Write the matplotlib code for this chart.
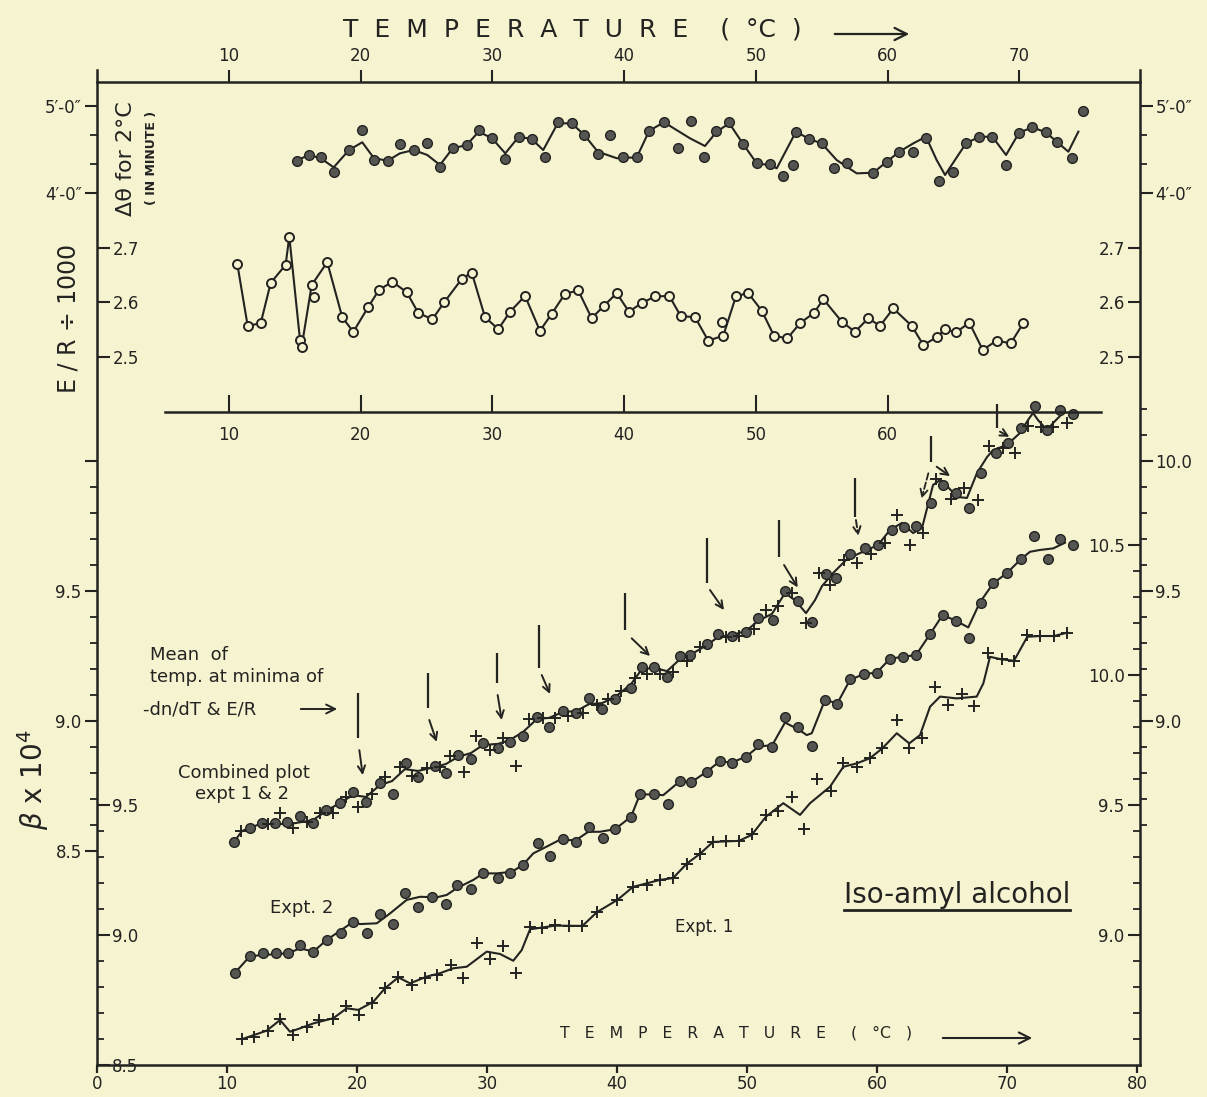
import matplotlib
matplotlib.use("Agg")
import matplotlib.pyplot as plt
import numpy as np
from matplotlib.patches import FancyArrowPatch
from matplotlib.lines import Line2D

plt.rcParams['font.family'] = ['DejaVu Sans']

PAPER = '#f6f3d0'
INK = '#232321'
DOT = '#555552'
W, H = 1207, 1097

# ---------------- top panel: delta-theta for 2 C (minutes) ----------------
dt_T = [15.14, 16.07, 16.96, 18.0, 19.11, 20.12, 21.01, 22.05, 22.98, 24.02, 25.06, 26.02,
        26.99, 28.05, 28.96, 29.97, 30.98, 32.0, 32.98, 34.0, 34.96, 36.02, 36.98, 38.0,
        38.93, 39.94, 40.96, 41.91, 43.03, 44.12, 45.06, 46.07, 46.96, 47.99, 49.05, 50.07,
        51.08, 52.09, 52.8, 53.05, 54.06, 55.0, 55.96, 56.95, 58.92, 59.94, 60.9, 61.96,
        62.92, 63.93, 64.95, 65.96, 66.97, 67.96, 69.0, 69.99, 71.0, 72.01, 72.85, 73.99, 74.87]
dt_v = [4.371, 4.437, 4.417, 4.245, 4.494, 4.724, 4.379, 4.371, 4.563, 4.494, 4.578, 4.302,
        4.514, 4.552, 4.724, 4.629, 4.387, 4.647, 4.621, 4.410, 4.820, 4.801, 4.667, 4.448,
        4.667, 4.417, 4.410, 4.716, 4.813, 4.514, 4.828, 4.417, 4.716, 4.820, 4.560, 4.341,
        4.333, 4.199, 4.322, 4.705, 4.621, 4.578, 4.284, 4.348, 4.233, 4.360, 4.475, 4.475,
        4.629, 4.141, 4.245, 4.571, 4.647, 4.647, 4.322, 4.693, 4.755, 4.698, 4.590, 4.406, 4.946]
dt_curve_T = [15.1, 16.07, 16.96, 17.95, 19.11, 20.12, 21.01, 22.05, 22.98, 24.02, 25.06, 26.02,
              26.99, 28.05, 28.96, 29.97, 30.98, 32.0, 32.98, 33.86, 34.96, 36.02, 36.98, 38.0,
              39.44, 40.96, 41.91, 43.03, 45.0, 46.14, 47.03, 47.99, 49.05, 50.07, 51.08, 51.59,
              53.05, 54.06, 55.0, 56.14, 57.66, 58.92, 59.94, 60.9, 61.96, 62.92, 63.73, 64.37,
              65.96, 66.97, 67.96, 69.0, 69.99, 71.0, 72.01, 72.85, 73.73, 74.49]
dt_curve_v = [4.371, 4.437, 4.40, 4.295, 4.494, 4.583, 4.40, 4.371, 4.456, 4.494, 4.437, 4.322,
              4.514, 4.552, 4.705, 4.629, 4.456, 4.647, 4.621, 4.494, 4.801, 4.801, 4.667, 4.475,
              4.40, 4.41, 4.716, 4.813, 4.629, 4.54, 4.705, 4.801, 4.560, 4.341, 4.320, 4.284,
              4.705, 4.621, 4.57, 4.379, 4.226, 4.233, 4.360, 4.475, 4.571, 4.647, 4.379, 4.207,
              4.571, 4.647, 4.647, 4.437, 4.693, 4.755, 4.698, 4.590, 4.475, 4.705]

# ---------------- top panel: E/R / 1000 ----------------
er_T = [10.63, 11.42, 12.41, 13.17, 14.30, 14.58, 15.39, 15.52, 16.28, 16.45, 17.46, 18.60,
        19.44, 20.58, 21.39, 22.40, 23.49, 24.37, 25.44, 26.33, 27.67, 28.43, 29.44, 30.45,
        31.34, 32.48, 33.61, 34.50, 35.51, 36.52, 37.54, 38.47, 39.44, 40.37, 41.34, 42.35,
        43.43, 44.30, 45.38, 46.39, 47.46, 47.53, 48.50, 49.43, 50.45, 51.38, 52.39, 53.36,
        54.42, 55.13, 56.52, 57.53, 58.54, 59.43, 60.44, 61.84, 62.72, 63.73, 64.37, 65.20,
        66.21, 67.23, 68.29, 69.35, 70.31]
er_v = [2.671, 2.557, 2.562, 2.636, 2.669, 2.721, 2.532, 2.519, 2.632, 2.610, 2.674, 2.573,
        2.546, 2.592, 2.623, 2.638, 2.619, 2.581, 2.569, 2.600, 2.643, 2.655, 2.573, 2.551,
        2.583, 2.612, 2.548, 2.579, 2.616, 2.622, 2.571, 2.594, 2.617, 2.583, 2.599, 2.611,
        2.612, 2.575, 2.573, 2.530, 2.565, 2.539, 2.612, 2.617, 2.585, 2.539, 2.534, 2.562,
        2.581, 2.606, 2.565, 2.546, 2.571, 2.557, 2.589, 2.557, 2.522, 2.536, 2.551, 2.545,
        2.563, 2.513, 2.530, 2.525, 2.562]
er_off_curve = [9, 40]

# ---------------- bottom: Expt. 1 (crosses) ----------------
e1_T = [11.13, 12.10, 13.13, 14.08, 15.10, 16.13, 17.10, 18.13, 19.15, 20.18, 21.13, 22.15,
        23.18, 24.21, 25.23, 26.18, 27.21, 28.18, 29.21, 30.23, 31.21, 32.23, 33.31, 34.23,
        35.23, 36.31, 37.34, 38.46, 40.03, 41.23, 42.27, 43.31, 44.31, 45.38, 46.38, 47.38,
        48.38, 49.38, 50.38, 51.46, 52.38, 53.44, 54.38, 55.36, 56.44, 57.41, 58.44, 59.46,
        60.41, 61.52, 62.48, 63.48, 64.46, 65.48, 66.52, 67.46, 68.56, 69.59, 70.54, 71.56,
        72.54, 73.62, 74.64]
e1_v = [8.599, 8.609, 8.632, 8.676, 8.615, 8.645, 8.673, 8.676, 8.727, 8.692, 8.737, 8.795,
        8.840, 8.808, 8.833, 8.846, 8.885, 8.833, 8.968, 8.907, 8.958, 8.855, 9.030, 9.028,
        9.037, 9.036, 9.035, 9.088, 9.135, 9.185, 9.192, 9.212, 9.219, 9.275, 9.312, 9.358,
        9.362, 9.362, 9.388, 9.462, 9.477, 9.531, 9.407, 9.600, 9.555, 9.660, 9.646, 9.680,
        9.718, 9.827, 9.718, 9.759, 9.953, 9.885, 9.927, 9.881, 10.083, 10.060, 10.055, 10.154,
        10.150, 10.150, 10.163]
e1_curve_T = [11.13, 13.05, 14.08, 14.85, 15.62, 16.64, 18.18, 19.21, 20.1, 21.25, 22.15, 23.18,
              24.08, 25.36, 26.38, 27.41, 28.44, 29.98, 31.0, 32.02, 32.67, 33.31, 35.23, 37.34,
              38.46, 40.03, 41.23, 43.31, 44.31, 45.38, 46.38, 47.38, 49.38, 50.36, 51.46, 52.79,
              54.08, 54.85, 56.38, 57.41, 58.44, 59.46, 60.41, 61.52, 62.48, 63.31, 64.08, 64.85,
              66.13, 67.67, 68.18, 68.69, 69.59, 70.54, 71.56, 72.54, 73.62, 74.64]
e1_curve_v = [8.599, 8.632, 8.673, 8.628, 8.641, 8.660, 8.680, 8.718, 8.712, 8.743, 8.795, 8.837,
              8.814, 8.840, 8.853, 8.872, 8.878, 8.936, 8.927, 8.901, 8.942, 9.022, 9.036, 9.035,
              9.088, 9.135, 9.185, 9.212, 9.219, 9.275, 9.312, 9.358, 9.362, 9.385, 9.455, 9.507,
              9.462, 9.507, 9.570, 9.647, 9.660, 9.680, 9.718, 9.776, 9.737, 9.769, 9.878, 9.917,
              9.910, 9.917, 9.968, 10.070, 10.060, 10.055, 10.147, 10.150, 10.150, 10.163]

# ---------------- bottom: Expt. 2 (dots) ----------------
e2_T = [10.62, 11.77, 12.79, 13.77, 14.72, 15.62, 16.64, 17.67, 18.75, 19.72, 20.75, 21.77,
        22.75, 23.69, 24.72, 25.79, 26.82, 27.72, 28.77, 29.72, 30.82, 31.77, 32.75, 33.95,
        34.85, 35.82, 36.85, 37.82, 38.90, 39.85, 41.08, 41.77, 42.85, 43.90, 44.85, 45.69,
        46.90, 47.92, 48.88, 49.92, 50.88, 51.92, 52.95, 53.95, 55.0, 56.0, 56.92, 57.96,
        59.0, 59.98, 61.0, 62.0, 63.0, 64.05, 65.05, 66.05, 67.1, 68.0, 68.95, 70.02,
        71.05, 72.08, 73.18, 74.08, 75.1]
e2_v = [8.855, 8.919, 8.932, 8.932, 8.930, 8.962, 8.936, 8.981, 9.009, 9.051, 9.009, 9.081,
        9.042, 9.160, 9.109, 9.147, 9.119, 9.192, 9.176, 9.240, 9.218, 9.240, 9.269, 9.352,
        9.304, 9.368, 9.358, 9.415, 9.372, 9.407, 9.455, 9.542, 9.542, 9.504, 9.592, 9.587,
        9.628, 9.671, 9.663, 9.686, 9.735, 9.724, 9.840, 9.801, 9.727, 9.903, 9.890, 9.985,
        10.002, 10.009, 10.062, 10.069, 10.077, 10.158, 10.231, 10.208, 10.142, 10.277, 10.353, 10.393,
        10.445, 10.535, 10.445, 10.522, 10.500]
e2_curve_T = [10.62, 11.77, 14.72, 15.62, 16.64, 17.67, 19.72, 20.23, 21.52, 22.54, 23.82, 24.85,
              26.13, 26.9, 27.67, 28.95, 29.72, 30.75, 31.9, 32.75, 33.56, 34.59, 35.56, 36.85,
              37.79, 38.69, 39.85, 41.08, 41.77, 43.56, 44.85, 45.69, 46.9, 47.87, 48.87, 49.92,
              50.87, 51.95, 52.92, 53.95, 54.59, 54.98, 56.0, 56.95, 57.92, 59.0, 59.98, 61.0,
              62.02, 63.0, 64.08, 65.05, 66.05, 67.02, 67.92, 68.95, 70.02, 71.05, 71.77, 72.54,
              73.56, 74.46]
e2_curve_v = [8.855, 8.919, 8.930, 8.949, 8.936, 8.981, 9.051, 9.042, 9.045, 9.083, 9.135, 9.147,
              9.145, 9.154, 9.180, 9.212, 9.237, 9.237, 9.243, 9.269, 9.314, 9.340, 9.365, 9.365,
              9.397, 9.397, 9.407, 9.455, 9.542, 9.538, 9.592, 9.587, 9.628, 9.667, 9.664, 9.686,
              9.724, 9.731, 9.817, 9.791, 9.769, 9.776, 9.904, 9.891, 9.981, 10.004, 10.009, 10.063,
              10.070, 10.077, 10.157, 10.231, 10.209, 10.183, 10.280, 10.353, 10.393, 10.445, 10.474, 10.481,
              10.487, 10.509]

# ---------------- combined plot expt 1 & 2 (own scale) ----------------
cd_T = [10.56, 11.77, 12.67, 13.69, 14.64, 15.62, 16.64, 17.62, 18.69, 19.72, 20.67, 21.77,
        22.75, 23.75, 24.72, 26.0, 26.85, 27.79, 28.77, 29.72, 30.87, 31.77, 32.75, 33.87,
        34.79, 35.82, 36.85, 37.85, 38.82, 39.85, 41.08, 41.90, 42.87, 43.87, 44.85, 45.62,
        46.95, 47.79, 48.82, 49.90, 50.87, 51.98, 52.92, 53.95, 55.0, 56.08, 56.88, 57.92,
        59.08, 60.10, 61.18, 62.08, 63.0, 64.15, 65.05, 66.08, 67.10, 68.0, 69.15, 70.05,
        71.08, 72.15, 73.05, 74.08, 75.10]
cd_v = [8.533, 8.587, 8.607, 8.609, 8.613, 8.635, 8.609, 8.658, 8.683, 8.728, 8.690, 8.763,
        8.719, 8.840, 8.786, 8.827, 8.801, 8.869, 8.853, 8.914, 8.895, 8.920, 8.942, 9.017,
        8.976, 9.040, 9.030, 9.087, 9.045, 9.083, 9.128, 9.209, 9.207, 9.170, 9.250, 9.254,
        9.296, 9.333, 9.327, 9.343, 9.395, 9.388, 9.500, 9.463, 9.382, 9.565, 9.552, 9.642,
        9.664, 9.677, 9.735, 9.745, 9.750, 9.837, 9.908, 9.878, 9.818, 9.955, 10.032, 10.068,
        10.126, 10.212, 10.119, 10.196, 10.181]
cc_T = [11.05, 13.18, 14.08, 15.10, 16.18, 17.15, 18.13, 19.15, 20.10, 21.18, 22.15, 23.31,
        24.21, 25.36, 26.38, 27.15, 28.23, 29.15, 30.23, 31.25, 32.23, 33.23, 34.33, 35.23,
        36.25, 37.36, 38.44, 39.33, 40.28, 41.38, 42.28, 43.31, 44.33, 45.36, 46.38, 48.36,
        49.41, 50.54, 51.44, 52.41, 53.44, 54.54, 55.54, 56.42, 57.46, 58.48, 59.52, 60.62,
        61.56, 62.54, 63.56, 64.54, 65.67, 66.69, 67.75, 68.64, 69.67, 70.62, 71.64, 72.59,
        73.56, 74.59]
cc_v = [8.578, 8.603, 8.645, 8.587, 8.613, 8.647, 8.645, 8.709, 8.670, 8.719, 8.786, 8.824,
        8.788, 8.818, 8.824, 8.865, 8.805, 8.942, 8.888, 8.933, 8.827, 9.008, 9.010, 9.010,
        9.019, 9.032, 9.062, 9.083, 9.117, 9.164, 9.181, 9.181, 9.190, 9.231, 9.283, 9.324,
        9.327, 9.353, 9.427, 9.442, 9.491, 9.377, 9.570, 9.523, 9.619, 9.607, 9.642, 9.686,
        9.792, 9.677, 9.722, 9.930, 9.853, 9.895, 9.850, 10.058, 10.049, 10.030, 10.135, 10.130,
        10.130, 10.145]
cm_curve_T = [10.54, 11.15, 12.54, 14.85, 16.62, 17.62, 18.69, 19.69, 20.69, 21.77, 22.69, 23.69,
              24.69, 26.0, 26.85, 27.77, 28.77, 29.69, 30.85, 31.77, 32.77, 33.85, 34.77, 35.85,
              36.85, 37.85, 38.85, 39.85, 41.08, 41.92, 42.85, 43.85, 44.85, 45.62, 46.92, 47.77,
              48.85, 49.92, 50.85, 51.92, 52.92, 53.69, 54.54, 55.23, 55.77, 56.62, 57.69, 58.69,
              60.08, 61.0, 61.92, 62.77, 63.46, 64.31, 64.85, 65.46, 66.15, 66.92, 67.69, 68.46,
              68.92, 70.0, 71.0, 71.62, 72.0, 72.38, 73.08, 73.54, 74.31]
cm_curve_v = [8.535, 8.577, 8.604, 8.604, 8.619, 8.654, 8.685, 8.715, 8.708, 8.754, 8.769, 8.815,
              8.808, 8.823, 8.835, 8.862, 8.877, 8.908, 8.912, 8.927, 8.958, 9.008, 9.012, 9.035,
              9.038, 9.065, 9.069, 9.092, 9.142, 9.200, 9.204, 9.192, 9.238, 9.254, 9.292, 9.323,
              9.331, 9.346, 9.385, 9.412, 9.492, 9.465, 9.415, 9.465, 9.519, 9.569, 9.623, 9.646,
              9.677, 9.735, 9.762, 9.723, 9.742, 9.908, 9.927, 9.900, 9.862, 9.858, 9.954, 10.015,
              10.042, 10.062, 10.108, 10.158, 10.185, 10.158, 10.119, 10.146, 10.185]

# temperatures of the minima (bars + arrows, combined scale)
mark_T = [20.1, 25.44, 30.75, 34.02, 40.62, 46.9, 52.48, 58.31, 64.15, 69.25]
mark_top = [9.108, 9.185, 9.262, 9.369, 9.493, 9.703, 9.773, 9.933, 10.096, 10.219]
mark_bot = [8.935, 9.050, 9.146, 9.204, 9.350, 9.532, 9.630, 9.786, 9.997, 10.126]
tail_T = [20.18, 25.56, 30.82, 34.21, 41.13, 47.15, 52.85, 58.38, 64.59, 69.46]
tail_v = [8.888, 9.004, 9.100, 9.177, 9.318, 9.504, 9.600, 9.773, 9.978, 10.113]
tip_T = [20.44, 26.13, 31.13, 34.85, 42.54, 48.23, 53.9, 58.56, 65.62, 70.18]
tip_v = [8.792, 8.920, 9.004, 9.104, 9.250, 9.427, 9.514, 9.712, 9.942, 10.093]
dashed_marks = [7]
extra_tail = (63.95, 9.953)
extra_tip = (63.43, 9.856)

# ticks
top_ticks = [10, 20, 30, 40, 50, 60, 70]
mid_ticks = [10, 20, 30, 40, 50, 60]
bottom_ticks = [0, 10, 20, 30, 40, 50, 60, 70, 80]
dt_ticks = [4.0, 5.0]
dt_labels = ['4\u2032-0\u2033', '5\u2032-0\u2033']
er_ticks = [2.5, 2.6, 2.7]


def fx(x):
    return x / W


def fy(y):
    return 1 - y / H


def side_ticks(parent, loc, align, major, labels, minor, fs=12):
    sec = parent.secondary_yaxis(loc)
    if align is not None:
        sec.set_alignment(align)
    sec.set_ticks(major, labels)
    sec.set_ticks(minor, minor=True)
    sec.tick_params(which='major', direction='out', length=9, width=1.5,
                    colors=INK, labelsize=fs, pad=2)
    sec.tick_params(which='minor', direction='out', length=5, width=1.3, colors=INK)
    for s in sec.spines.values():
        s.set_visible(False)
    return sec


fig = plt.figure(figsize=(W / 100, H / 100), dpi=100, facecolor=PAPER)

rect_main = [fx(97), fy(1065), (1140 - 97) / W, (1065 - 70) / H]
rect_top = [fx(97), fy(412), (1140 - 97) / W, (412 - 82) / H]

# main axes: scale of Expt. 1 and Expt. 2
ax = fig.add_axes(rect_main)
ax.set_facecolor('none')
ax.set_xlim(0, 80.23)
ax.set_ylim(8.5, 12.327)
for s in ['left', 'right', 'bottom']:
    ax.spines[s].set_linewidth(1.8)
    ax.spines[s].set_color(INK)
ax.spines['top'].set_visible(False)
ax.set_xticks(bottom_ticks)
ax.tick_params(axis='x', direction='out', length=6, width=1.6, colors=INK, labelsize=12, pad=1)
ax.tick_params(axis='y', left=False, labelleft=False)

side_ticks(ax, 0.0, 'right', [8.5, 9.0, 9.5], ['8.5', '9.0', '9.5'],
           list(np.round(np.arange(8.6, 9.45, 0.1), 2)))
side_ticks(ax, 1.0, 'left', [9.0, 9.5, 10.0, 10.5], ['9.0', '9.5', '10.0', '10.5'],
           list(np.round(np.arange(8.6, 10.45, 0.1), 2)))

# combined plot axes (shifted scale)
axc = fig.add_axes(rect_main, sharex=ax)
axc.set_facecolor('none')
axc.set_ylim(7.677, 11.504)
for s in axc.spines.values():
    s.set_visible(False)
axc.tick_params(axis='both', left=False, bottom=False, labelleft=False, labelbottom=False)
side_ticks(axc, 'left', None, [8.5, 9.0, 9.5, 10.0], ['8.5', '9.0', '9.5', ''],
           list(np.round(np.arange(8.6, 9.95, 0.1), 2)))
side_ticks(axc, 'right', None, [9.0, 9.5, 10.0], ['9.0', '9.5', '10.0'],
           list(np.round(np.arange(8.6, 10.25, 0.1), 2)))

# top panel: E/R scale
axt = fig.add_axes(rect_top)
axt.set_facecolor('none')
axt.set_xlim(-0.02, 79.17)
axt.set_ylim(2.399, 3.0046)
axt.spines['left'].set_visible(False)
axt.spines['right'].set_visible(False)
for s in ['top', 'bottom']:
    axt.spines[s].set_linewidth(1.8)
    axt.spines[s].set_color(INK)
axt.spines['bottom'].set_bounds(5.14, 76.2)
axt.set_xticks(mid_ticks)
axt.tick_params(axis='x', direction='in', length=12, width=1.5, colors=INK, labelsize=12, pad=10)
axt.tick_params(axis='y', left=False, labelleft=False)
sect = axt.secondary_xaxis('top')
sect.set_ticks(top_ticks)
sect.tick_params(direction='out', length=9, width=1.5, colors=INK, labelsize=12, pad=3)
for s in sect.spines.values():
    s.set_visible(False)
side_ticks(axt, 0.0, 'right', er_ticks, ['2.5', '2.6', '2.7'], [])
side_ticks(axt, 1.0, 'left', er_ticks, ['2.5', '2.6', '2.7'], [])

# top panel: delta-theta scale
axd = fig.add_axes(rect_top, sharex=axt)
axd.set_facecolor('none')
axd.set_ylim(1.483, 5.276)
for s in axd.spines.values():
    s.set_visible(False)
axd.tick_params(axis='x', bottom=False, labelbottom=False)
axd.set_yticks(dt_ticks, dt_labels)
axd.set_yticks([4.333, 4.667], minor=True)
axd.tick_params(axis='y', which='both', left=True, right=True, labelleft=True, labelright=True,
                direction='out', colors=INK, labelsize=12, pad=2)
axd.tick_params(axis='y', which='major', length=9, width=1.5)
axd.tick_params(axis='y', which='minor', length=5, width=1.3)

# ---------------- data ----------------
axd.plot(dt_curve_T, dt_curve_v, '-', color=INK, lw=1.5, zorder=2)
axd.plot(dt_T, dt_v, 'o', ms=7, mfc=DOT, mec=INK, mew=1.0, zorder=3)

er_line = [(t, v) for i, (t, v) in enumerate(zip(er_T, er_v)) if i not in er_off_curve]
axt.plot([p[0] for p in er_line], [p[1] for p in er_line], '-', color=INK, lw=1.5, zorder=2)
axt.plot(er_T, er_v, 'o', ms=6.5, mfc=PAPER, mec=INK, mew=1.4, zorder=3)

ax.plot(e1_curve_T, e1_curve_v, '-', color=INK, lw=1.5, zorder=2)
ax.plot(e1_T, e1_v, '+', ms=9, mew=1.4, color=INK, zorder=3)
ax.plot(e2_curve_T, e2_curve_v, '-', color=INK, lw=1.5, zorder=2)
ax.plot(e2_T, e2_v, 'o', ms=7, mfc=DOT, mec=INK, mew=1.0, zorder=3)

axc.plot(cm_curve_T, cm_curve_v, '-', color=INK, lw=1.5, zorder=2)
axc.plot(cd_T, cd_v, 'o', ms=7, mfc=DOT, mec=INK, mew=1.0, zorder=3)
axc.plot(cc_T, cc_v, '+', ms=9, mew=1.4, color=INK, zorder=3)

axc.vlines(mark_T, mark_bot, mark_top, color=INK, lw=1.6)
for i in range(len(mark_T)):
    ls = '--' if i in dashed_marks else '-'
    axc.annotate('', xy=(tip_T[i], tip_v[i]), xytext=(tail_T[i], tail_v[i]),
                 arrowprops=dict(arrowstyle='->', color=INK, lw=1.4, ls=ls,
                                 shrinkA=0, shrinkB=0, mutation_scale=13))
axc.annotate('', xy=extra_tip, xytext=extra_tail,
             arrowprops=dict(arrowstyle='->', color=INK, lw=1.3, ls='--',
                             shrinkA=0, shrinkB=0, mutation_scale=13))

# ---------------- texts ----------------
fig.text(fx(572), fy(30), 'T  E  M  P  E  R  A  T  U  R  E    (  \u00b0C  )',
         ha='center', va='center', fontsize=18, color=INK)
fig.add_artist(FancyArrowPatch((fx(832), fy(34)), (fx(912), fy(34)), transform=fig.transFigure,
                               arrowstyle='->', mutation_scale=22, lw=1.6, color=INK))
fig.text(fx(560), fy(1033), 'T   E   M   P   E   R   A   T   U   R   E     (   \u00b0C   )',
         ha='left', va='center', fontsize=11.3, color=INK)
fig.add_artist(FancyArrowPatch((fx(940), fy(1038)), (fx(1035), fy(1038)), transform=fig.transFigure,
                               arrowstyle='->', mutation_scale=20, lw=1.5, color=INK))

fig.text(fx(68), fy(318), 'E / R \u00f7 1000', rotation=90, ha='center', va='center',
         fontsize=17, color=INK)
fig.text(fx(126), fy(159), '\u0394\u03b8 for 2\u00b0C', rotation=90, ha='center', va='center',
         fontsize=16, color=INK)
fig.text(fx(151), fy(158), '( IN MINUTE )', rotation=90, ha='center', va='center',
         fontsize=9, fontweight='bold', color=INK)
fig.text(fx(33), fy(780), r'$\beta$ x 10$^4$', rotation=90, ha='center', va='center',
         fontsize=20, color=INK)

fig.text(fx(150), fy(655), 'Mean  of', ha='left', va='center', fontsize=13, color=INK)
fig.text(fx(150), fy(677), 'temp. at minima of', ha='left', va='center', fontsize=13, color=INK)
fig.text(fx(143), fy(709), '-dn/dT & E/R', ha='left', va='center', fontsize=13, color=INK)
fig.add_artist(FancyArrowPatch((fx(298), fy(709)), (fx(340), fy(709)), transform=fig.transFigure,
                               arrowstyle='->', mutation_scale=16, lw=1.4, color=INK))
fig.text(fx(178), fy(773), 'Combined plot', ha='left', va='center', fontsize=13, color=INK)
fig.text(fx(195), fy(794), 'expt 1 & 2', ha='left', va='center', fontsize=13, color=INK)
fig.text(fx(270), fy(908), 'Expt. 2', ha='left', va='center', fontsize=13, color=INK)
fig.text(fx(675), fy(927), 'Expt. 1', ha='left', va='center', fontsize=12, color=INK)

title = fig.text(fx(957), fy(895), 'Iso-amyl alcohol', ha='center', va='center',
                 fontsize=20, color=INK)
fig.canvas.draw()
bb = title.get_window_extent(fig.canvas.get_renderer()).transformed(fig.transFigure.inverted())
fig.add_artist(Line2D([bb.x0, bb.x1], [fy(910), fy(910)], transform=fig.transFigure,
                      lw=2.0, color=INK))

fig.savefig('out.png', dpi=100, facecolor=PAPER)
